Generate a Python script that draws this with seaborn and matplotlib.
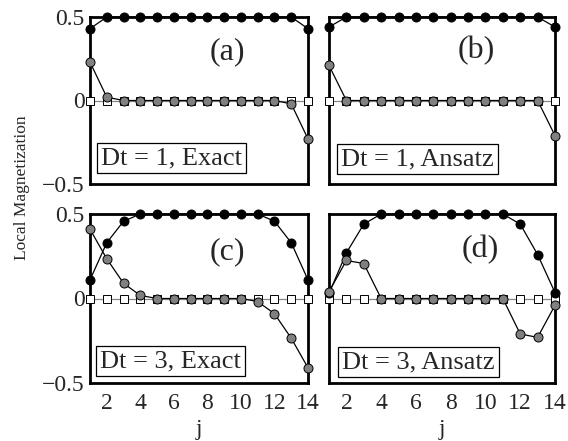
import numpy as np
import pandas as pd
import matplotlib
matplotlib.use("Agg")
import matplotlib.pyplot as plt
import seaborn as sns

# site index
j = list(range(1, 15))

# (a) Dt = 1, exact
a_black = [0.43] + [0.5] * 12 + [0.43]
a_gray = [0.23, 0.02] + [0.0] * 10 + [-0.02, -0.23]
# (b) Dt = 1, ansatz
b_black = [0.44] + [0.5] * 12 + [0.44]
b_gray = [0.21] + [0.0] * 12 + [-0.21]
# (c) Dt = 3, exact
c_black = [0.11, 0.33, 0.457] + [0.5] * 8 + [0.457, 0.33, 0.11]
c_gray = [0.41, 0.235, 0.09, 0.018] + [0.0] * 6 + [-0.018, -0.09, -0.235, -0.41]
# (d) Dt = 3, ansatz
d_black = [0.03, 0.27, 0.44] + [0.5] * 8 + [0.44, 0.26, 0.035]
d_gray = [0.04, 0.225, 0.207] + [0.0] * 8 + [-0.21, -0.23, -0.04]
# third component (zero everywhere)
zero_vals = [0.0] * 14

panel_tags = ["(a)", "(b)", "(c)", "(d)"]
panel_boxes = ["Dt = 1, Exact", "Dt = 1, Ansatz", "Dt = 3, Exact", "Dt = 3, Ansatz"]
xticks = [2, 4, 6, 8, 10, 12, 14]
yticks = [-0.5, 0, 0.5]
ytick_labels = ["\u22120.5", "0", "0.5"]

sns.set_style("white")
plt.rcParams["font.family"] = ["Liberation Serif", "DejaVu Serif"]

fig = plt.figure(figsize=(5.68, 4.41), dpi=100)
W, H = 568.0, 441.0

# panel frames in pixel coordinates (left, top, right, bottom)
frames = [(90, 17, 308, 184), (329, 17, 555, 184),
          (90, 214, 308, 383), (329, 214, 555, 383)]
axes = [fig.add_axes([x0 / W, 1 - y1 / H, (x1 - x0) / W, (y1 - y0) / H])
        for (x0, y0, x1, y1) in frames]

# label-box lower-left corners in pixels
box_corners = [(97, 173), (337, 174), (96, 376), (338, 377)]
box_pad_px = 4.0

series = [(a_black, a_gray), (b_black, b_gray), (c_black, c_gray), (d_black, d_gray)]
tag_pos = [(0.63, 0.79), (0.653, 0.80), (0.63, 0.775), (0.668, 0.787)]
gray = "#808080"

for k, (ax, (blk, gry)) in enumerate(zip(axes, series)):
    df = pd.DataFrame({"j": j, "zero": zero_vals, "black": blk, "gray": gry})
    sns.lineplot(data=df, x="j", y="zero", ax=ax, color="#888888", lw=0.9,
                 marker="s", markersize=5.2, markerfacecolor="white",
                 markeredgecolor="black", markeredgewidth=0.7,
                 clip_on=False, zorder=3, estimator=None)
    sns.lineplot(data=df, x="j", y="black", ax=ax, color="black", lw=0.9,
                 marker="o", markersize=6.5, markerfacecolor="black",
                 markeredgecolor="black", markeredgewidth=0.7,
                 clip_on=False, zorder=4, estimator=None)
    sns.lineplot(data=df, x="j", y="gray", ax=ax, color="black", lw=0.9,
                 marker="o", markersize=6.5, markerfacecolor=gray,
                 markeredgecolor="black", markeredgewidth=0.7,
                 clip_on=False, zorder=5, estimator=None)

    ax.set_xlim(1, 14)
    ax.set_ylim(-0.5, 0.5)
    ax.set_xticks(xticks)
    ax.set_yticks(yticks)
    ax.tick_params(axis="both", direction="in", length=3, width=0.8,
                   labelsize=17, pad=7, left=False)
    for s in ax.spines.values():
        s.set_linewidth(2.0)
        s.set_color("black")
        s.set_visible(True)
    ax.set_xlabel("")
    ax.set_ylabel("")
    if k < 2:
        ax.set_xticklabels([])
    else:
        ax.set_xlabel("j", fontsize=17, labelpad=4)
    if k % 2 == 1:
        ax.set_yticklabels([])
    else:
        ax.set_yticklabels(ytick_labels)
        ax.tick_params(axis="y", pad=4)

    tx, ty = tag_pos[k]
    ax.text(tx, ty, panel_tags[k], transform=ax.transAxes, ha="center",
            va="center", fontsize=23)

    x0, y0, x1, y1 = frames[k]
    bx, by = box_corners[k]
    fx = (bx + box_pad_px - x0) / (x1 - x0)
    fy = (y1 - by + box_pad_px) / (y1 - y0)
    ax.text(fx, fy, panel_boxes[k], transform=ax.transAxes, ha="left",
            va="bottom", fontsize=19, zorder=6,
            bbox=dict(boxstyle="square,pad=0.15", fc="white", ec="black", lw=0.9))

fig.text(22 / W, 1 - 188 / H, "Local Magnetization", rotation=90,
         ha="center", va="center", fontsize=12.5)

fig.savefig("out.png", dpi=100)
